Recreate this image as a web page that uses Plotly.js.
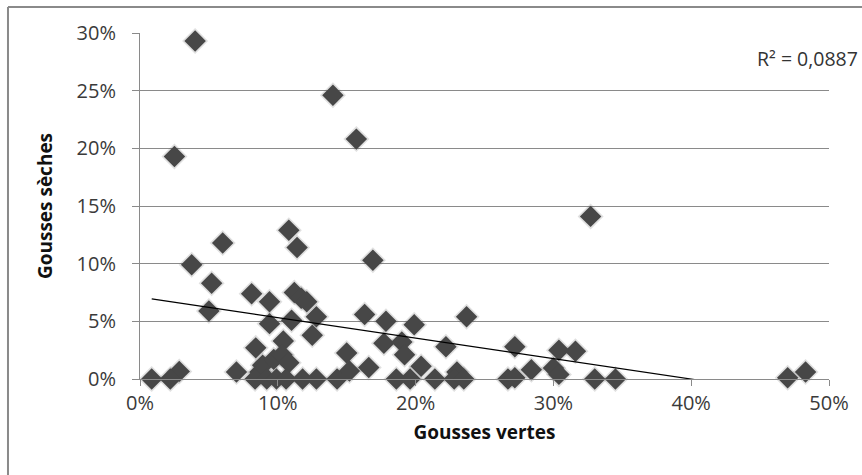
<!DOCTYPE html>
<html>
<head>
<meta charset="utf-8">
<script src="https://cdn.plot.ly/plotly-3.0.1.min.js"></script>
<style>
  html, body { margin: 0; padding: 0; background: #fff; }
  #chart { width: 862px; height: 475px; }
</style>
</head>
<body>
<div id="chart"></div>
<script>
// Gousses vertes (x) and Gousses sèches (y)
const gousseVertes = [
  0.040, 0.140, 0.157, 0.025, 0.327, 0.108, 0.114, 0.060, 0.0375, 0.169,
  0.052, 0.050, 0.081, 0.094, 0.112, 0.117, 0.121, 0.128, 0.094, 0.110,
  0.125, 0.104, 0.084, 0.163, 0.1785, 0.199, 0.237, 0.177, 0.190, 0.192,
  0.222, 0.150, 0.070, 0.0285, 0.022, 0.0085, 0.152, 0.166, 0.204, 0.089,
  0.097, 0.103, 0.108, 0.087, 0.230,
  0.0835, 0.092, 0.099, 0.106, 0.118, 0.128, 0.143, 0.186, 0.196, 0.214,
  0.228, 0.235,
  0.272, 0.304, 0.316, 0.284, 0.300, 0.304, 0.267, 0.272, 0.330, 0.345,
  0.470, 0.483
];
const gousseSeches = [
  0.293, 0.246, 0.208, 0.193, 0.141, 0.129, 0.114, 0.118, 0.099, 0.103,
  0.083, 0.059, 0.074, 0.067, 0.075, 0.070, 0.067, 0.054, 0.048, 0.051,
  0.038, 0.033, 0.027, 0.056, 0.050, 0.047, 0.054, 0.031, 0.032, 0.021,
  0.028, 0.0225, 0.006, 0.0066, 0.000, 0.000, 0.007, 0.010, 0.011, 0.012,
  0.017, 0.021, 0.014, 0.006, 0.006,
  0.000, 0.000, 0.000, 0.000, 0.000, 0.000, 0.000, 0.000, 0.000, 0.000,
  0.000, 0.000,
  0.028, 0.025, 0.024, 0.008, 0.0095, 0.004, 0.000, 0.001, 0.000, 0.000,
  0.001, 0.006
];
// Linear trend line coefficients (as displayed) and R²
const trendIntercept = 0.071;
const trendSlope = -0.1777;
const rSquaredLabel = "R² = 0,0887";
const xTickVals = [0, 0.1, 0.2, 0.3, 0.4, 0.5];
const xTickText = ["0%", "10%", "20%", "30%", "40%", "50%"];
const yTickVals = [0, 0.05, 0.10, 0.15, 0.20, 0.25, 0.30];
const yTickText = ["0%", "5%", "10%", "15%", "20%", "25%", "30%"];

const xMin = Math.min(...gousseVertes);
const xMax = Math.max(...gousseVertes);
const trendX = [xMin, xMax];
const trendY = trendX.map(v => trendIntercept + trendSlope * v);

const FONT = '"Open Sans", "Noto Sans", sans-serif';

const traces = [
  { // soft shadow under markers
    x: gousseVertes, y: gousseSeches, type: 'scatter', mode: 'markers',
    marker: { symbol: 'diamond', size: 20, color: 'rgba(60,60,60,0.16)', line: { width: 0 } },
    hoverinfo: 'skip', showlegend: false, cliponaxis: false
  },
  {
    x: gousseVertes, y: gousseSeches, type: 'scatter', mode: 'markers',
    name: 'Gousses sèches',
    marker: { symbol: 'diamond', size: 16.5, color: '#474747', line: { width: 0 } },
    showlegend: false, cliponaxis: false
  },
  {
    x: trendX, y: trendY, type: 'scatter', mode: 'lines',
    name: 'Linéaire', line: { color: '#000', width: 1.2 },
    showlegend: false
  }
];

const layout = {
  width: 862, height: 475,
  margin: { l: 140, r: 33, t: 33, b: 95.7 },
  paper_bgcolor: '#fff', plot_bgcolor: '#fff',
  font: { family: FONT, color: '#333' },
  showlegend: false,
  xaxis: {
    range: [0, 0.5], tickvals: xTickVals, ticktext: xTickText,
    showgrid: false, zeroline: false,
    showline: true, linecolor: '#8a8a8a', linewidth: 1,
    ticks: 'outside', ticklen: 6, tickcolor: '#8a8a8a',
    ticklabelstandoff: 0,
    tickfont: { size: 20, family: FONT, color: '#3a3a3a' },
    title: { text: 'Gousses vertes', standoff: 10,
             font: { size: 19, family: FONT, color: '#111', weight: 'bold' } }
  },
  yaxis: {
    range: [0, 0.3], tickvals: yTickVals, ticktext: yTickText,
    showgrid: true, gridcolor: '#8a8a8a', gridwidth: 1,
    zeroline: false,
    showline: true, linecolor: '#8a8a8a', linewidth: 1,
    ticks: 'outside', ticklen: 7, tickcolor: '#8a8a8a',
    ticklabelstandoff: 12,
    tickfont: { size: 20, family: FONT, color: '#3a3a3a' },
    title: { text: 'Gousses sèches', standoff: 18,
             font: { size: 19, family: FONT, color: '#111', weight: 'bold' } }
  },
  annotations: [{
    text: rSquaredLabel, xref: 'paper', yref: 'paper',
    x: 1.045, y: 0.925, xanchor: 'right', yanchor: 'middle',
    showarrow: false, font: { size: 19.5, family: FONT, color: '#333' }
  }],
  shapes: [
    { type: 'line', xref: 'paper', yref: 'paper', x0: -0.1916, x1: 1.06, y0: 1.075, y1: 1.075,
      line: { color: '#8a8a8a', width: 2 } },
    { type: 'line', xref: 'paper', yref: 'paper', x0: -0.1916, x1: -0.1916, y0: 1.075, y1: -0.28,
      line: { color: '#8a8a8a', width: 2 } }
  ]
};

Plotly.newPlot('chart', traces, layout, { displayModeBar: false, staticPlot: true });
</script>
</body>
</html>
